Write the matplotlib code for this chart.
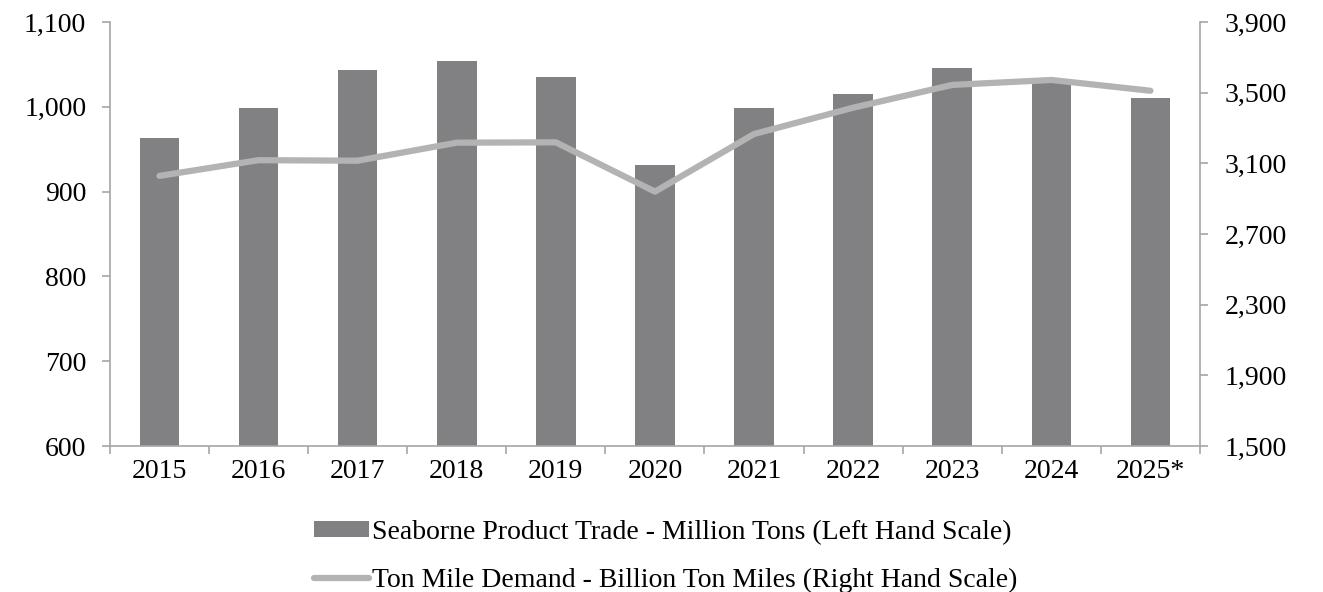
import matplotlib.pyplot as plt
from matplotlib.ticker import FuncFormatter

years = ['2015', '2016', '2017', '2018', '2019', '2020',
         '2021', '2022', '2023', '2024', '2025*']
product_trade = [963, 999, 1043, 1054, 1035, 931, 999, 1015, 1046, 1029, 1010]
ton_miles = [3029, 3118, 3115, 3217, 3219, 2940, 3266, 3415, 3544, 3572, 3511]
left_ticks = [600, 700, 800, 900, 1000, 1100]
right_ticks = [1500, 1900, 2300, 2700, 3100, 3500, 3900]

plt.rcParams['font.family'] = ['Liberation Serif', 'DejaVu Serif']
fs = 20
spine_col = '#a6a6a6'

fig = plt.figure(figsize=(13.23, 5.92), dpi=100)
ax = fig.add_axes([0.0831, 0.2466, 0.8239, 0.7162])
ax2 = ax.twinx()

x = list(range(len(years)))
bars = ax.bar(x, product_trade, width=0.4, color='#818183',
              label='Seaborne Product Trade - Million Tons (Left Hand Scale)')
line, = ax2.plot(x, ton_miles, color='#b3b3b3', lw=4.5, solid_capstyle='round',
                 solid_joinstyle='round',
                 label='Ton Mile Demand - Billion Ton Miles (Right Hand Scale)')

ax.set_xlim(-0.5, len(years) - 0.5)
ax.set_ylim(left_ticks[0], left_ticks[-1])
ax2.set_ylim(right_ticks[0], right_ticks[-1])
ax.set_yticks(left_ticks)
ax2.set_yticks(right_ticks)
comma = FuncFormatter(lambda v, p: f'{v:,.0f}')
ax.yaxis.set_major_formatter(comma)
ax2.yaxis.set_major_formatter(comma)

# category boundaries carry the x ticks, labels sit in the middle
ax.set_xticks([i - 0.5 for i in range(len(years) + 1)])
ax.set_xticklabels([])
ax.set_xticks(x, minor=True)
ax.set_xticklabels(years, minor=True)
ax.tick_params(axis='x', which='minor', length=0, labelsize=fs, pad=9)
ax.tick_params(axis='x', which='major', length=6, color=spine_col, width=1.2)
ax.tick_params(axis='y', labelsize=fs, length=6, color=spine_col, width=1.2, pad=11)
ax2.tick_params(axis='y', labelsize=fs, length=6, color=spine_col, width=1.2, pad=11.5)

for a in (ax, ax2):
    a.spines['top'].set_visible(False)
    for s in ('left', 'right', 'bottom'):
        a.spines[s].set_color(spine_col)
        a.spines[s].set_linewidth(1.2)
ax.spines['right'].set_visible(False)
ax2.spines['left'].set_visible(False)
ax2.spines['bottom'].set_visible(False)

fig.legend(handles=[bars, line], loc='upper center', bbox_to_anchor=(0.503, 0.14),
           frameon=False, fontsize=fs, handlelength=2.0, handleheight=0.5,
           handletextpad=0.08, labelspacing=0.8, borderaxespad=0)

plt.savefig('out.png', dpi=100)
